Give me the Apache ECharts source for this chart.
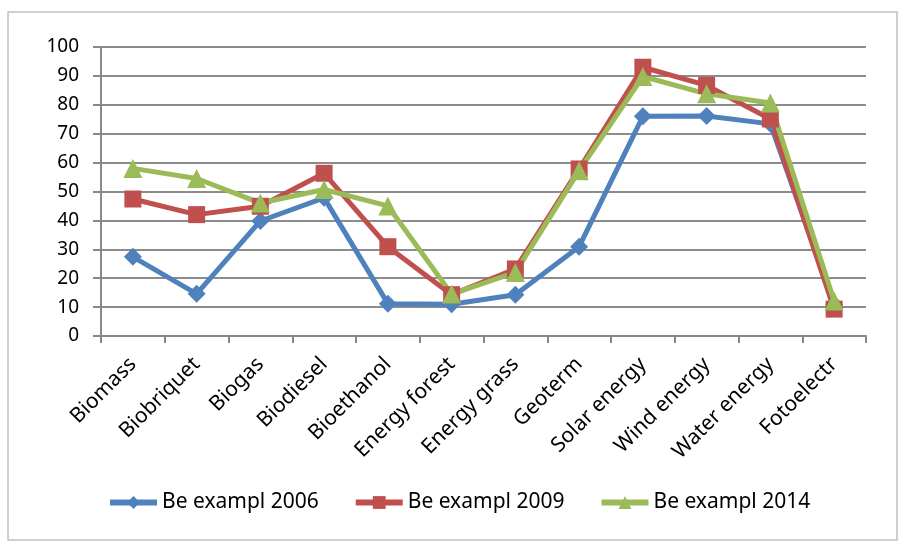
<!DOCTYPE html>
<html>
<head>
<meta charset="utf-8">
<script src="https://cdn.jsdelivr.net/npm/echarts@6/dist/echarts.min.js"></script>
<style>
  html, body { margin: 0; padding: 0; background: #fff; }
  #chart { width: 904px; height: 544px; }
</style>
</head>
<body>
<div id="chart"></div>
<script>
const categories = ['Biomass', 'Biobriquet', 'Biogas', 'Biodiesel', 'Bioethanol', 'Energy forest',
    'Energy grass', 'Geoterm', 'Solar energy', 'Wind energy', 'Water energy', 'Fotoelectr'];

const values2006 = [27.4, 14.6, 39.8, 47.8, 11.2, 11.0, 14.3, 30.9, 76.0, 76.1, 73.4, 11.0];
const values2009 = [47.4, 42.0, 44.9, 56.3, 30.9, 14.3, 23.2, 57.8, 93.0, 86.7, 75.1, 9.3];
const values2014 = [58.0, 54.5, 46.0, 50.7, 45.0, 14.5, 22.0, 57.2, 89.8, 83.8, 80.6, 12.1];

const yTicks = [0, 10, 20, 30, 40, 50, 60, 70, 80, 90, 100];

const chart = echarts.init(document.getElementById('chart'));
const font = 'Noto Sans';

function lineSeries(name, data, color, symbol, size) {
    return {
        name: name,
        type: 'line',
        data: data,
        symbol: symbol,
        symbolSize: size,
        itemStyle: { color: color },
        lineStyle: { color: color, width: 5 },
        emphasis: { disabled: true },
        animation: false
    };
}

chart.setOption({
    animation: false,
    graphic: [{
        type: 'rect',
        shape: { x: 8, y: 12, width: 889, height: 528 },
        style: { fill: 'none', stroke: '#c0c0c0', lineWidth: 1.5 },
        silent: true
    }],
    grid: { left: 101, right: 38, top: 47, bottom: 208 },
    legend: {
        bottom: 26,
        left: 102,
        itemWidth: 47,
        itemHeight: 16,
        itemGap: 34,
        lineStyle: { width: 6 },
        textStyle: { fontFamily: font, fontSize: 21, color: '#000' },
        data: ['Be exampl 2006', 'Be exampl 2009', 'Be exampl 2014']
    },
    xAxis: {
        type: 'category',
        data: categories,
        boundaryGap: true,
        axisLine: { lineStyle: { color: '#888', width: 2 } },
        axisTick: { show: true, length: 7, lineStyle: { color: '#888', width: 2 } },
        axisLabel: {
            rotate: 45,
            margin: 25,
            interval: 0,
            fontFamily: font,
            fontSize: 21,
            color: '#000'
        }
    },
    yAxis: {
        type: 'value',
        min: yTicks[0],
        max: yTicks[yTicks.length - 1],
        interval: 10,
        axisLine: { show: true, lineStyle: { color: '#888', width: 2 } },
        axisTick: { show: true, length: 8, inside: false, lineStyle: { color: '#888', width: 2 } },
        splitLine: { lineStyle: { color: '#8c8c8c', width: 2 } },
        axisLabel: { fontFamily: font, fontSize: 19, color: '#000', margin: 22 }
    },
    series: [
        lineSeries('Be exampl 2006', values2006, '#4F81BD', 'diamond', 18),
        lineSeries('Be exampl 2009', values2009, '#C0504D', 'rect', 17),
        lineSeries('Be exampl 2014', values2014, '#9BBB59', 'triangle', 19)
    ]
});
</script>
</body>
</html>
